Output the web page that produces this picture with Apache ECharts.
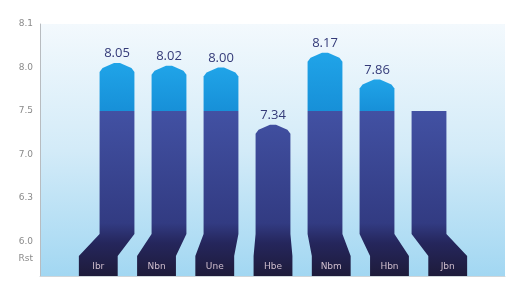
<!DOCTYPE html>
<html>
<head>
<meta charset="utf-8">
<script src="https://cdn.jsdelivr.net/npm/echarts@6/dist/echarts.min.js"></script>
<style>
  html, body { margin: 0; padding: 0; background: #ffffff; }
  #chart { width: 514px; height: 284px; }
</style>
</head>
<body>
<div id="chart"></div>
<script>
// chart data
const categories = ['Ibr', 'Nbn', 'Une', 'Hbe', 'Nbm', 'Hbn', 'Jbn']
const values = [8.05, 8.02, 8.00, 7.34, 8.17, 7.86, 7.50]
const valueLabels = ['8.05', '8.02', '8.00', '7.34', '8.17', '7.86', '']
const tickValues = ['5.8', '6.0', '6.5', '7.0', '7.5', '8.0', '8.5']
const tickLabels = ['Rst', '6.0', '6.3', '7.0', '7.5', '8.0', '8.1']
const splitLevel = 7.5
const yMin = 5.6
const yMax = 8.5

const chart = echarts.init(document.getElementById('chart'), null, { renderer: 'canvas' })

const tickMap = {}
tickValues.forEach((v, i) => { tickMap[v] = tickLabels[i] })

// pointed, slightly rounded roof on top of a bar
const capPoints = (xL, xR, cx, yT) => [
  [xL, yT + 9], [xL + 3, yT + 5], [cx - 3, yT], [cx + 3, yT], [xR - 3, yT + 5], [xR, yT + 9]
]

const renderBar = (params, api) => {
  const i = api.value(0)
  const v = api.value(1)
  const topPt = api.coord([i, v])
  const cx = topPt[0]
  const yT = topPt[1]
  const yBase = api.coord([i, yMin])[1]
  const ySplit = api.coord([i, splitLevel])[1]
  const half = api.size([1, 0])[0] * 0.335
  const xL = cx - half
  const xR = cx + half
  const cs = params.coordSys
  const shift = (cx - (cs.x + cs.width / 2)) * 0.12
  const hasCap = valueLabels[i] !== ''

  // lower part of the bar down to the shifted foot
  const foot = [
    [xR, yBase - 42], [xR + shift + 2, yBase - 20], [xR + shift + 2, yBase],
    [xL + shift - 2, yBase], [xL + shift - 2, yBase - 20], [xL, yBase - 42]
  ]
  let darkTop
  if (v > splitLevel) {
    darkTop = [[xL, ySplit], [xR, ySplit]]
  } else if (hasCap) {
    darkTop = capPoints(xL, xR, cx, yT)
  } else {
    darkTop = [[xL, yT], [xR, yT]]
  }

  const darkFill = new echarts.graphic.LinearGradient(0, ySplit, 0, yBase, [
    { offset: 0, color: '#4251a3' },
    { offset: 0.68, color: '#323b82' },
    { offset: 0.8, color: '#25265c' },
    { offset: 1, color: '#1e1b3a' }
  ], true)

  const children = [{
    type: 'polygon',
    shape: { points: darkTop.concat(foot) },
    style: { fill: darkFill }
  }]

  if (v > splitLevel) {
    children.push({
      type: 'polygon',
      shape: { points: capPoints(xL, xR, cx, yT).concat([[xR, ySplit], [xL, ySplit]]) },
      style: {
        fill: new echarts.graphic.LinearGradient(0, 0, 0, 1, [
          { offset: 0, color: '#20a4e8' },
          { offset: 1, color: '#1790d8' }
        ])
      }
    })
  }

  if (hasCap) {
    children.push({
      type: 'text',
      style: {
        x: cx, y: yT - 3,
        text: valueLabels[i],
        fill: '#343a78',
        font: '13px "Open Sans", sans-serif',
        align: 'center',
        verticalAlign: 'bottom'
      }
    })
  }

  children.push({
    type: 'text',
    style: {
      x: cx + shift, y: yBase - 9,
      text: categories[i],
      fill: '#cdbccc',
      font: '9px "DejaVu Sans", sans-serif',
      align: 'center',
      verticalAlign: 'middle'
    }
  })

  return { type: 'group', children }
}

const options = {
  animation: false,
  grid: [
    {
      left: 40, right: 9, top: 24, bottom: 8,
      show: true,
      borderWidth: 0,
      backgroundColor: new echarts.graphic.LinearGradient(0, 0, 0, 1, [
        { offset: 0, color: '#f3f9fd' },
        { offset: 0.5, color: '#d3ebf8' },
        { offset: 1, color: '#a2d7f2' }
      ])
    },
    { left: 91, right: 59, top: 24, bottom: 8 }
  ],
  xAxis: [
    {
      gridIndex: 0, type: 'value', min: 0, max: 1,
      axisLine: { show: true, lineStyle: { color: '#cfd6da' } },
      axisTick: { show: false }, axisLabel: { show: false }, splitLine: { show: false }
    },
    {
      gridIndex: 1, type: 'category', data: categories,
      axisLine: { show: false }, axisTick: { show: false },
      axisLabel: { show: false }, splitLine: { show: false }
    }
  ],
  yAxis: [
    {
      gridIndex: 0, type: 'value', min: yMin, max: yMax, interval: 0.1,
      axisLine: { show: true, lineStyle: { color: '#b8bcc0' } },
      axisTick: { show: false },
      splitLine: { show: false },
      axisLabel: {
        color: '#8a8a8a',
        fontSize: 9,
        fontFamily: 'DejaVu Sans',
        margin: 7,
        formatter: (val) => tickMap[val.toFixed(1)] || ''
      }
    },
    {
      gridIndex: 1, type: 'value', min: yMin, max: yMax,
      show: false
    }
  ],
  series: [
    {
      type: 'custom',
      xAxisIndex: 1,
      yAxisIndex: 1,
      renderItem: renderBar,
      data: values.map((v, i) => [i, v])
    }
  ]
}

chart.setOption(options)
</script>
</body>
</html>
